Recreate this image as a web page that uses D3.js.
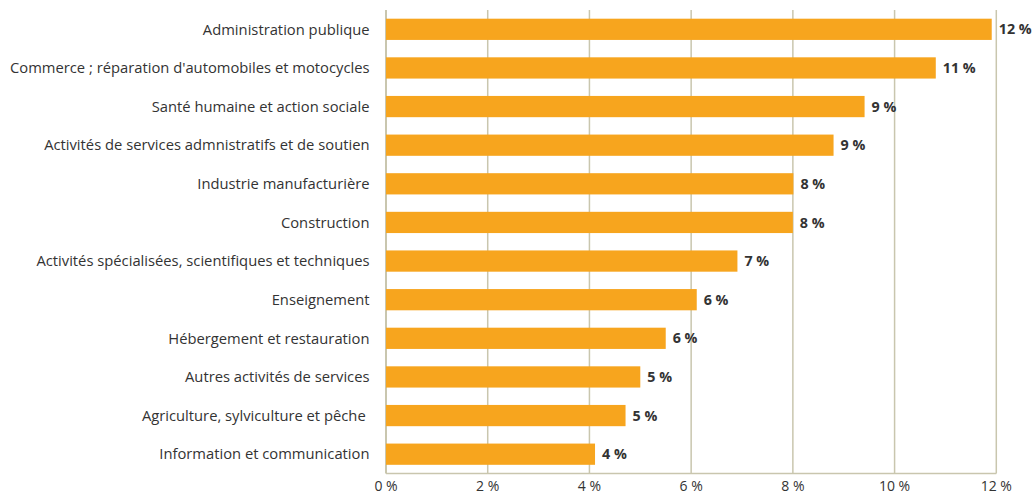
<!DOCTYPE html>
<html><head><meta charset="utf-8">
<script src="https://cdn.jsdelivr.net/npm/d3@7"></script>
<style>body{margin:0;background:#fff}text{font-family:"Open Sans",sans-serif}</style>
</head><body><svg id="c" width="1036" height="494"></svg>
<script>
const categories = ["Administration publique","Commerce ; réparation d'automobiles et motocycles","Santé humaine et action sociale","Activités de services admnistratifs et de soutien","Industrie manufacturière","Construction","Activités spécialisées, scientifiques et techniques","Enseignement","Hébergement et restauration","Autres activités de services","Agriculture, sylviculture et pêche ","Information et communication"];
const values = [11.91, 10.81, 9.41, 8.80, 8.01, 8.00, 6.91, 6.11, 5.50, 5.00, 4.71, 4.11];
const valueLabels = ["12 %","11 %","9 %","9 %","8 %","8 %","7 %","6 %","6 %","5 %","5 %","4 %"];
const ticks = [0,2,4,6,8,10,12];
const tickLabels = ["0 %","2 %","4 %","6 %","8 %","10 %","12 %"];

const svg = d3.select("#c");
const x = d3.scaleLinear().domain([0,12]).range([386,996.3]);
const y = d3.scaleBand().domain(categories).range([10,473.5]).paddingInner(0.45).paddingOuter(0.225);
const grid = "#c9c6ae";

svg.append("g").selectAll("line").data(ticks).join("line")
  .attr("x1",d=>x(d)).attr("x2",d=>x(d)).attr("y1",10).attr("y2",473.5)
  .attr("stroke",grid).attr("stroke-width",d=>d===0?2:1.5);
svg.append("line").attr("x1",x(0)).attr("x2",x(12)).attr("y1",473.5).attr("y2",473.5)
  .attr("stroke",grid).attr("stroke-width",1.5);

svg.append("g").selectAll("rect").data(values).join("rect")
  .attr("x",x(0)).attr("y",(d,i)=>y(categories[i])).attr("width",d=>x(d)-x(0))
  .attr("height",y.bandwidth()).attr("fill","#f7a51e");

svg.append("g").selectAll("text").data(values).join("text")
  .attr("x",d=>x(d)+7).attr("y",(d,i)=>y(categories[i])+y.bandwidth()/2)
  .attr("dy","0.36em").attr("font-size",14.3).attr("font-weight",700).attr("fill","#333")
  .text((d,i)=>valueLabels[i]);

svg.append("g").selectAll("text").data(categories).join("text")
  .attr("x",369.5).attr("y",d=>y(d)+y.bandwidth()/2).attr("dy","0.36em")
  .attr("text-anchor","end").attr("font-size",14.75).attr("fill","#333")
  .style("white-space","pre").text(d=>d);

svg.append("g").selectAll("text").data(ticks).join("text")
  .attr("x",d=>x(d)).attr("y",486).attr("dy","0.36em").attr("text-anchor","middle")
  .attr("font-size",14).attr("fill","#333").text((d,i)=>tickLabels[i]);
</script></body></html>
